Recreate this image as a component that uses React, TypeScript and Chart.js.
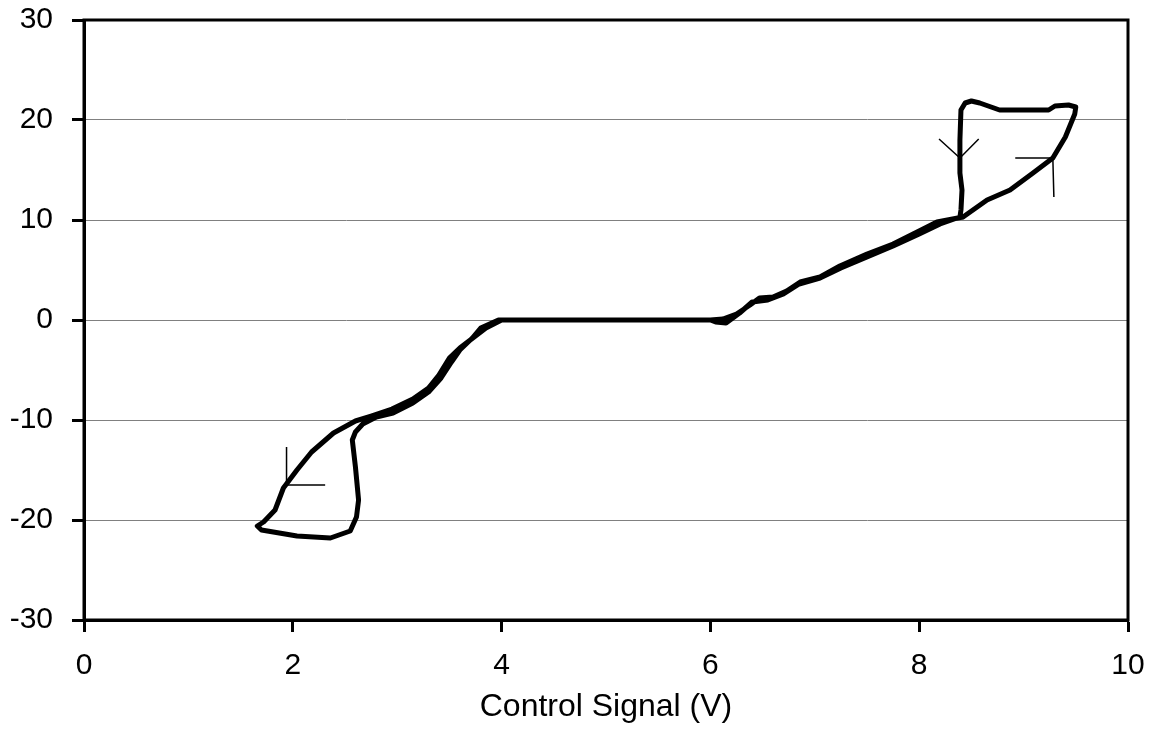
import React, { useEffect, useRef } from "react";
import { Chart, registerables } from "chart.js";

Chart.register(...registerables);

// Hysteresis loop (Control Signal V vs output), traced in travel order
const loopX = [
  8.42, 8.65, 8.87, 9.09, 9.28, 9.4, 9.49, 9.5, 9.43, 9.3, 9.24, 8.77, 8.58, 8.5, 8.44, 8.4,
  8.39, 8.39, 8.41, 8.4, 8.39,
  8.2, 8.0, 7.75, 7.5, 7.25, 7.05, 6.85, 6.7, 6.55, 6.4, 6.28, 6.15, 6.05, 6.0,
  4.0, 3.85, 3.75, 3.6, 3.5, 3.4, 3.3, 3.15, 2.95, 2.75, 2.6,
  2.39, 2.18, 2.04, 1.91, 1.83, 1.72, 1.66, 1.7, 2.04, 2.36, 2.55, 2.61, 2.63, 2.6, 2.57, 2.6, 2.67,
  2.8, 2.96, 3.15, 3.3, 3.42, 3.52, 3.6, 3.72, 3.8, 3.97,
  6.0, 6.12, 6.25, 6.38, 6.47, 6.6, 6.73, 6.86, 7.05, 7.24, 7.5, 7.75, 7.98, 8.17, 8.32, 8.42,
];
const loopY = [
  10.3, 12.0, 13.0, 14.7, 16.2, 18.3, 20.6, 21.3, 21.5, 21.4, 21.0, 21.0, 21.7, 21.9, 21.7, 21.0,
  18.0, 14.7, 13.0, 11.0, 10.3,
  9.6, 8.6, 7.4, 6.3, 5.2, 4.2, 3.6, 2.6, 2.0, 1.8, 0.7, -0.3, -0.2, 0,
  0, -0.8, -1.6, -2.8, -3.8, -5.5, -6.8, -7.9, -8.9, -9.6, -10.1,
  -11.3, -13.2, -15.0, -16.8, -19.0, -20.2, -20.6, -21.0, -21.6, -21.8, -21.1, -19.7, -18.0, -14.7, -12.0, -11.2, -10.4,
  -9.7, -9.3, -8.3, -7.2, -5.8, -4.2, -3.0, -1.8, -0.8, 0,
  0, 0.1, 0.6, 1.5, 2.2, 2.3, 2.9, 3.8, 4.3, 5.4, 6.6, 7.6, 8.8, 9.8, 10.1, 10.3,
];

// Direction arrows
const arrowDownX = [8.19, 8.39, 8.57];
const arrowDownY = [18.1, 16.2, 18.1];
const arrowUpX = [8.92, 9.28, 9.29];
const arrowUpY = [16.2, 16.2, 12.3];
const arrowLeftX = [1.94, 1.94, 2.31];
const arrowLeftY = [-12.7, -16.5, -16.5];

const xTicks = [0, 2, 4, 6, 8, 10];
const yTicks = [-30, -20, -10, 0, 10, 20, 30];
const xTitle = "Control Signal (V)";

const pts = (xs: number[], ys: number[]) => xs.map((x, i) => ({ x, y: ys[i] }));

const FONT = "'Liberation Sans', Arial, sans-serif";

export default function App() {
  const ref = useRef<HTMLCanvasElement | null>(null);
  useEffect(() => {
    document.body.style.margin = "0";
    if (!ref.current) return;
    const frame = {
      id: "frame",
      afterDraw(chart: any) {
        const { ctx, chartArea: a } = chart;
        ctx.save();
        ctx.strokeStyle = "#000";
        ctx.lineWidth = 3;
        ctx.strokeRect(a.left, a.top, a.right - a.left, a.bottom - a.top);
        ctx.restore();
      },
    };
    const thin = { borderColor: "#000", borderWidth: 1.5, pointRadius: 0, showLine: true, tension: 0 };
    const chart = new Chart(ref.current, {
      type: "scatter",
      data: {
        datasets: [
          {
            data: pts(loopX, loopY),
            borderColor: "#000",
            borderWidth: 5,
            pointRadius: 0,
            showLine: true,
            tension: 0,
            borderJoinStyle: "round",
            borderCapStyle: "round",
          } as any,
          { data: pts(arrowDownX, arrowDownY), ...thin } as any,
          { data: pts(arrowUpX, arrowUpY), ...thin } as any,
          { data: pts(arrowLeftX, arrowLeftY), ...thin } as any,
        ],
      },
      options: {
        animation: false,
        responsive: false,
        layout: { padding: { top: 20, right: 23, left: 0, bottom: 0 } },
        plugins: { legend: { display: false }, tooltip: { enabled: false } },
        scales: {
          x: {
            type: "linear",
            min: 0,
            max: 10,
            afterFit: (s: any) => { s.height = 116; s.paddingLeft = 0; s.paddingRight = 0; },
            afterBuildTicks: (s: any) => { s.ticks = xTicks.map((v) => ({ value: v })); },
            ticks: { color: "#000", font: { family: FONT, size: 30 }, padding: 16, autoSkip: false, maxRotation: 0 },
            grid: { drawOnChartArea: false, tickLength: 12, tickWidth: 3, tickColor: "#000" },
            border: { display: true, color: "#000", width: 3 },
            title: { display: true, text: xTitle, color: "#000", font: { family: FONT, size: 32 }, padding: { top: 0, bottom: 10 } },
          },
          y: {
            type: "linear",
            min: -30,
            max: 30,
            afterFit: (s: any) => { s.width = 84; s.paddingTop = 0; s.paddingBottom = 0; },
            afterBuildTicks: (s: any) => { s.ticks = yTicks.map((v) => ({ value: v })); },
            ticks: { color: "#000", font: { family: FONT, size: 30 }, padding: 19, autoSkip: false },
            grid: { color: "#808080", lineWidth: 1, tickLength: 12, tickWidth: 3, tickColor: "#000" },
            border: { display: true, color: "#000", width: 3 },
          },
        },
      },
      plugins: [frame],
    } as any);
    return () => chart.destroy();
  }, []);
  return (
    <div style={{ width: 1151, height: 736 }}>
      <canvas ref={ref} width={1151} height={736} style={{ display: "block" }} />
    </div>
  );
}
